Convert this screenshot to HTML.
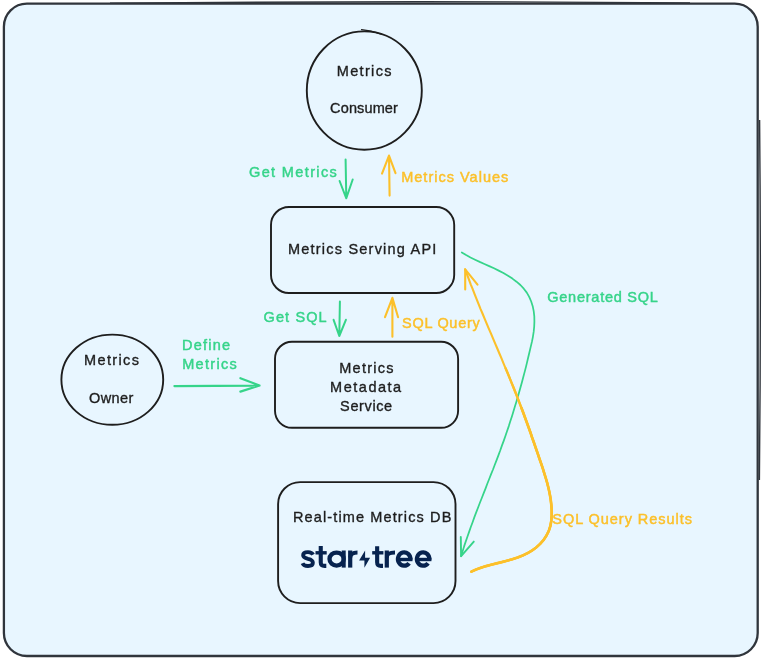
<!DOCTYPE html>
<html><head><meta charset="utf-8">
<style>
html,body{margin:0;padding:0;background:#fff;width:766px;height:659px;overflow:hidden;}
svg{display:block;will-change:transform;}
text{font-family:"Liberation Sans",sans-serif;}
</style></head>
<body>
<svg width="766" height="659" viewBox="0 0 766 659">
<rect x="3.9" y="3.7" width="753.8" height="652.3" rx="23" ry="23" fill="#e8f6ff" stroke="#30353c" stroke-width="2.3"/>
<path d="M110 3.3 Q400 0.4 690 2.9" fill="none" stroke="#30353c" stroke-width="1.4"/>
<path d="M759.6 120 Q761.2 300 759.4 480" fill="none" stroke="#30353c" stroke-width="1.4"/>
<g fill="none" stroke="#1e1e1e" stroke-width="1.9" stroke-linecap="round">
<ellipse cx="364.3" cy="90.6" rx="57.5" ry="59.2"/>
<path d="M361.5 29.7 Q371 30.4 381.5 34.2" stroke-width="1.2"/>
<rect x="271" y="207" width="183.2" height="86" rx="18"/>
<rect x="275" y="341.8" width="183.1" height="86" rx="17"/>
<ellipse cx="112.3" cy="379.7" rx="50.9" ry="45.1"/>
<rect x="278.1" y="482.1" width="177.4" height="121" rx="22"/>
</g>
<g fill="none" stroke="#36d48a" stroke-width="2" stroke-linecap="round" stroke-linejoin="round">
<path d="M345.6 159.5 L346.3 198.3 M339.6 181 L346.3 198.3 L352.7 179.5"/>
<path d="M339.9 301.5 L339.3 336 M333.6 319.8 L339.3 336 L345.9 319.8"/>
<path d="M174.4 386.1 L259.5 385.6 M240.4 378.2 L259.5 385.5 L240.4 391.6" stroke-width="2.2"/>
<path d="M461.8 252.5 L466.1 255.1 L470.5 257.5 L475.1 259.7 L479.7 261.9 L484.4 264.0 L489.2 266.1 L494.0 268.3 L498.7 270.6 L503.4 273.0 L508.0 275.7 L512.4 278.6 L516.5 281.7 L520.4 285.0 L523.8 288.7 L526.8 292.6 L529.2 296.9 L531.2 301.5 L532.7 306.2 L533.7 311.2 L534.3 316.3 L534.4 321.4 L534.2 326.5 L533.7 331.7 L532.9 336.8 L531.9 341.9 L530.7 346.9 L529.5 352.0 L528.3 357.0 L527.1 362.1 L525.9 367.1 L524.6 372.1 L523.3 377.0 L522.0 382.0 L520.6 387.0 L519.2 391.9 L517.8 396.8 L516.4 401.7 L514.9 406.6 L513.4 411.5 L511.9 416.4 L510.3 421.3 L508.8 426.1 L507.1 431.0 L505.5 435.8 L503.8 440.6 L502.0 445.4 L500.3 450.3 L498.5 455.1 L496.7 459.9 L494.8 464.7 L493.0 469.5 L491.1 474.2 L489.2 479.0 L487.3 483.8 L485.5 488.6 L483.6 493.4 L481.7 498.2 L479.8 503.0 L478.0 507.8 L476.1 512.6 L474.3 517.4 L472.6 522.2 L470.8 527.0 L469.1 531.9 L467.4 536.7 L465.7 541.6 L464.1 546.4 L462.6 551.3 L461.1 556.2" stroke-width="1.75"/>
<path d="M460.8 537 L461.1 556.2 L473.8 541.6" stroke-width="1.9"/>
</g>
<g fill="none" stroke="#fcc02a" stroke-width="2.1" stroke-linecap="round" stroke-linejoin="round">
<path d="M471.4 571.6 L476.1 569.5 L481.0 567.7 L486.1 566.1 L491.3 564.7 L496.5 563.4 L501.8 562.1 L507.1 560.7 L512.4 559.2 L517.5 557.6 L522.5 555.6 L527.3 553.3 L531.9 550.6 L536.2 547.5 L540.1 543.9 L543.6 539.9 L546.5 535.5 L548.8 530.9 L550.4 525.9 L551.3 520.7 L551.7 515.4 L551.7 510.1 L551.3 504.8 L550.7 499.5 L549.8 494.2 L548.7 489.0 L547.4 483.7 L545.9 478.5 L544.3 473.4 L542.7 468.2 L541.0 463.1 L539.2 458.0 L537.5 452.9 L535.7 447.8 L534.0 442.8 L532.2 437.8 L530.5 432.7 L528.7 427.7 L526.9 422.7 L525.1 417.8 L523.3 412.8 L521.4 407.8 L519.5 402.9 L517.6 397.9 L515.7 393.0 L513.7 388.0 L511.7 383.1 L509.7 378.1 L507.7 373.2 L505.6 368.3 L503.5 363.3 L501.5 358.4 L499.4 353.5 L497.3 348.5 L495.2 343.6 L493.1 338.7 L491.0 333.7 L488.9 328.8 L486.8 323.9 L484.7 318.9 L482.7 314.0 L480.6 309.1 L478.6 304.1 L476.6 299.2 L474.6 294.2 L472.7 289.2 L470.7 284.3 L468.9 279.3 L467.0 274.3 L465.2 269.3"/>
<path d="M471.4 571.6 L476.1 569.5 L481.0 567.7 L486.1 566.1 L491.3 564.7 L496.5 563.4 L501.8 562.1 L507.1 560.7 L512.4 559.2 L517.5 557.6 L522.5 555.6 L527.3 553.3 L531.9 550.6 L536.2 547.5 L540.1 543.9 L543.6 539.9 L546.5 535.5 L548.8 530.9 L550.4 525.9 L551.3 520.7 L551.7 515.4 L551.7 510.1 L551.3 504.8 L550.7 499.5 L549.8 494.2 L548.7 489.0 L547.4 483.7 L545.9 478.5 L544.3 473.4 L542.7 468.2 L541.0 463.1 L539.2 458.0 L537.5 452.9 L535.7 447.8 L534.0 442.8 L532.2 437.8 L530.5 432.7 L528.7 427.7 L526.9 422.7 L525.1 417.8 L523.3 412.8 L521.4 407.8 L519.5 402.9 L517.6 397.9 L515.7 393.0 L513.7 388.0 L511.7 383.1 L509.7 378.1 L507.7 373.2 L505.6 368.3 L503.5 363.3 L501.5 358.4 L499.4 353.5 L497.3 348.5 L495.2 343.6 L493.1 338.7 L491.0 333.7 L488.9 328.8 L486.8 323.9 L484.7 318.9 L482.7 314.0 L480.6 309.1 L478.6 304.1 L476.6 299.2 L474.6 294.2 L472.7 289.2 L470.7 284.3 L468.9 279.3 L467.0 274.3 L465.2 269.3" stroke-width="2.35" stroke-dasharray="261.4 2000"/>
<path d="M471.4 571.6 L476.1 569.5 L481.0 567.7 L486.1 566.1 L491.3 564.7 L496.5 563.4 L501.8 562.1 L507.1 560.7 L512.4 559.2 L517.5 557.6 L522.5 555.6 L527.3 553.3 L531.9 550.6 L536.2 547.5 L540.1 543.9 L543.6 539.9 L546.5 535.5 L548.8 530.9 L550.4 525.9 L551.3 520.7 L551.7 515.4 L551.7 510.1 L551.3 504.8 L550.7 499.5 L549.8 494.2 L548.7 489.0 L547.4 483.7 L545.9 478.5 L544.3 473.4 L542.7 468.2 L541.0 463.1 L539.2 458.0 L537.5 452.9 L535.7 447.8 L534.0 442.8 L532.2 437.8 L530.5 432.7 L528.7 427.7 L526.9 422.7 L525.1 417.8 L523.3 412.8 L521.4 407.8 L519.5 402.9 L517.6 397.9 L515.7 393.0 L513.7 388.0 L511.7 383.1 L509.7 378.1 L507.7 373.2 L505.6 368.3 L503.5 363.3 L501.5 358.4 L499.4 353.5 L497.3 348.5 L495.2 343.6 L493.1 338.7 L491.0 333.7 L488.9 328.8 L486.8 323.9 L484.7 318.9 L482.7 314.0 L480.6 309.1 L478.6 304.1 L476.6 299.2 L474.6 294.2 L472.7 289.2 L470.7 284.3 L468.9 279.3 L467.0 274.3 L465.2 269.3" stroke-width="2.65" stroke-dasharray="218.8 2000"/>
<path d="M465.2 289.4 L465.2 269.3 L477.5 284.6"/>
<path d="M389.6 195.6 L389 155.6 M382 173.6 L389 155.6 L395.5 173.2"/>
<path d="M392.4 336.8 L392.4 297.8 M385 317.2 L392.4 297.8 L398.1 317.2"/>
</g>
<g font-size="14.5" lengthAdjust="spacingAndGlyphs" stroke-width="0.45">
<text x="336.70" y="75.70" textLength="54.80" lengthAdjust="spacing" fill="#1e1e1e" stroke="#1e1e1e" stroke-width="0.35">Metrics</text>
<text x="330.10" y="113.30" textLength="67.80" lengthAdjust="spacing" fill="#1e1e1e" stroke="#1e1e1e" stroke-width="0.35">Consumer</text>
<text x="288.00" y="254.30" textLength="148.30" lengthAdjust="spacing" fill="#1e1e1e" stroke="#1e1e1e" stroke-width="0.35">Metrics Serving API</text>
<text x="339.20" y="373.30" textLength="54.40" lengthAdjust="spacing" fill="#1e1e1e" stroke="#1e1e1e" stroke-width="0.35">Metrics</text>
<text x="330.10" y="392.20" textLength="71.10" lengthAdjust="spacing" fill="#1e1e1e" stroke="#1e1e1e" stroke-width="0.35">Metadata</text>
<text x="340.10" y="411.00" textLength="52.10" lengthAdjust="spacing" fill="#1e1e1e" stroke="#1e1e1e" stroke-width="0.35">Service</text>
<text x="84.00" y="365.40" textLength="54.90" lengthAdjust="spacing" fill="#1e1e1e" stroke="#1e1e1e" stroke-width="0.35">Metrics</text>
<text x="89.10" y="403.00" textLength="44.20" lengthAdjust="spacing" fill="#1e1e1e" stroke="#1e1e1e" stroke-width="0.35">Owner</text>
<text x="293.00" y="522.20" textLength="158.30" lengthAdjust="spacing" fill="#1e1e1e" stroke="#1e1e1e" stroke-width="0.35">Real-time Metrics DB</text>
<text x="249.00" y="177.00" textLength="87.80" lengthAdjust="spacing" fill="#36d48a" stroke="#36d48a" stroke-width="0.45">Get Metrics</text>
<text x="263.50" y="321.70" textLength="63.20" lengthAdjust="spacing" fill="#36d48a" stroke="#36d48a" stroke-width="0.45">Get SQL</text>
<text x="182.00" y="349.80" textLength="48.20" lengthAdjust="spacing" fill="#36d48a" stroke="#36d48a" stroke-width="0.45">Define</text>
<text x="182.20" y="368.80" textLength="54.60" lengthAdjust="spacing" fill="#36d48a" stroke="#36d48a" stroke-width="0.45">Metrics</text>
<text x="547.20" y="301.90" textLength="110.70" lengthAdjust="spacing" fill="#36d48a" stroke="#36d48a" stroke-width="0.45">Generated SQL</text>
<text x="401.20" y="182.20" textLength="107.10" lengthAdjust="spacing" fill="#fcc02a" stroke="#fcc02a" stroke-width="0.45">Metrics Values</text>
<text x="402.10" y="327.60" textLength="77.60" lengthAdjust="spacing" fill="#fcc02a" stroke="#fcc02a" stroke-width="0.45">SQL Query</text>
<text x="552.30" y="523.60" textLength="139.60" lengthAdjust="spacing" fill="#fcc02a" stroke="#fcc02a" stroke-width="0.45">SQL Query Results</text>
</g>
<g fill="none" stroke="#07234f" stroke-linecap="butt"><path d="M313.1 554.7 C312.1 552.8 310.2 552.1 308 552.1 C305.2 552.1 303.1 553.3 303.1 555.3 C303.1 557.5 305.6 558.2 308 558.8 C310.8 559.4 312.9 560.3 312.9 562.7 C312.9 564.8 310.8 566 308 566 C305.2 566 303.3 565 302.5 563.2" stroke-width="3.8"/><path d="M320.75 546.1 L320.75 562.3 C320.75 565 321.85 565.85 324.55 565.85 L326.30 565.85" stroke-width="4.1"/><rect x="315.5" y="551.1" width="11.20" height="3.4" fill="#07234f" stroke="none"/><ellipse cx="336.6" cy="559.05" rx="7.1" ry="6.5" stroke-width="4.3"/><rect x="341.7" y="550.5" width="4" height="17.1" fill="#07234f" stroke="none"/><rect x="348.1" y="550.5" width="4.2" height="17.1" fill="#07234f" stroke="none"/><path d="M350.20 557.5 C350.50 553.6 353.00 552.6 357.50 552.6" stroke-width="4" stroke-linecap="butt"/><path d="M365.1 550.6 L365.1 557.7 L370.1 557.7 L364.4 567.8 L364.4 560.5 L359.1 560.5 Z" fill="#07234f" stroke="none"/><path d="M377.15 546.2 L377.15 562.3 C377.15 565 378.25 565.85 380.95 565.85 L383.00 565.85" stroke-width="4.1"/><rect x="372.2" y="551.1" width="11.20" height="3.4" fill="#07234f" stroke="none"/><rect x="384.7" y="550.5" width="4.2" height="17.1" fill="#07234f" stroke="none"/><path d="M386.80 557.5 C387.10 553.6 389.60 552.6 395.00 552.6" stroke-width="4" stroke-linecap="butt"/><path d="M410.40 559.50 A6.25 6.65 0 1 0 409.08 563.14" stroke-width="4.2"/><rect x="397.90" y="557.8" width="14.60" height="3.4" fill="#07234f" stroke="none"/><path d="M429.35 559.50 A6.25 6.65 0 1 0 428.03 563.14" stroke-width="4.2"/><rect x="416.85" y="557.8" width="14.60" height="3.4" fill="#07234f" stroke="none"/></g>
</svg>
</body></html>
